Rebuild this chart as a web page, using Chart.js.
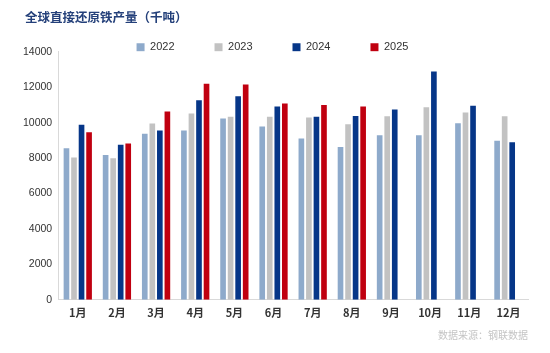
<!DOCTYPE html>
<html>
<head>
<meta charset="utf-8">
<script src="https://cdn.jsdelivr.net/npm/chart.js@4"></script>
<style>
  html, body { margin: 0; padding: 0; background: #fff; }
  #wrap { width: 550px; height: 353px; }
</style>
</head>
<body>
<div id="wrap"><canvas id="dri"></canvas></div>
<script>
const months = ['1月', '2月', '3月', '4月', '5月', '6月', '7月', '8月', '9月', '10月', '11月', '12月'];
const yearLabels = ['2022', '2023', '2024', '2025'];
const v2022 = [8560, 8170, 9370, 9560, 10230, 9780, 9110, 8620, 9290, 9290, 9970, 8980];
const v2023 = [8040, 7990, 9950, 10510, 10330, 10330, 10290, 9910, 10360, 10870, 10570, 10360];
const v2024 = [9880, 8750, 9560, 11260, 11490, 10910, 10330, 10380, 10740, 12890, 10960, 8900];
const v2025 = [9460, 8830, 10630, 12200, 12160, 11080, 11000, 10910, null, null, null, null];
const yTicks = [0, 2000, 4000, 6000, 8000, 10000, 12000, 14000];

const colors = ['#8eaacb', '#c2c2c2', '#063688', '#c00010'];

// legend sits close under the title, nearly level with the top tick;
// title is nudged a bit to the right
const boxTweak = {
    id: 'boxTweak',
    beforeInit(chart) {
        const lg = chart.legend;
        if (lg) {
            const fit = lg.fit;
            lg.fit = function () { fit.call(this); this.height -= 39; };
            const draw = lg.draw;
            lg.draw = function () { this.top -= 28; draw.call(this); this.top += 28; };
        }
        const tb = chart.titleBlock;
        if (tb) {
            const tdraw = tb.draw;
            tb.draw = function () { this.left += 8; tdraw.call(this); this.left -= 8; };
        }
    }
};

function createBarChart(canvasId) {
    const series = [v2022, v2023, v2024, v2025];
    const data = {
        labels: months,
        datasets: series.map((vals, i) => ({
            label: yearLabels[i],
            data: vals,
            backgroundColor: colors[i],
            borderWidth: 0,
            barPercentage: 0.75,
            categoryPercentage: 0.77,
        }))
    };

    const numFont = { family: "'Liberation Sans', Arial, sans-serif", size: 11 };

    const config = {
        type: 'bar',
        data: data,
        options: {
            responsive: true,
            maintainAspectRatio: false,
            animation: false,
            layout: {
                padding: { left: 17, right: 22, top: 0, bottom: 0 }
            },
            scales: {
                y: {
                    min: 0,
                    max: 14000,
                    afterBuildTicks: (axis) => { axis.ticks = yTicks.map(v => ({ value: v })); },
                    grid: { display: false, drawTicks: false, tickLength: 0 },
                    border: { display: true, color: '#d9d9d9', width: 1 },
                    ticks: {
                        color: '#333',
                        font: { family: "'Liberation Sans', Arial, sans-serif", size: 10.5 },
                        padding: 6,
                        callback: (v) => String(v)
                    }
                },
                x: {
                    grid: { display: false, drawTicks: false, tickLength: 0 },
                    border: { display: true, color: '#d9d9d9', width: 1 },
                    ticks: {
                        color: '#333',
                        font: { family: "'Noto Sans CJK SC', sans-serif", size: 11, weight: 'bold' },
                        padding: 6,
                        maxRotation: 0
                    }
                }
            },
            plugins: {
                title: {
                    display: true,
                    text: '全球直接还原铁产量（千吨）',
                    align: 'start',
                    color: '#24407a',
                    font: { family: "'Noto Sans CJK SC', sans-serif", size: 12.5, weight: 'bold' },
                    padding: { top: 9.5, bottom: 5.3 }
                },
                subtitle: {
                    display: true,
                    position: 'bottom',
                    align: 'end',
                    text: '数据来源：钢联数据',
                    color: '#c4c4c4',
                    font: { family: "'Noto Sans CJK SC', sans-serif", size: 10 },
                    padding: { top: 4, bottom: 12 }
                },
                legend: {
                    position: 'top',
                    labels: {
                        boxWidth: 8,
                        boxHeight: 8,
                        padding: 40,
                        color: '#333',
                        font: numFont
                    }
                },
                tooltip: { enabled: false }
            }
        },
        plugins: [boxTweak]
    };

    const ctx = document.getElementById(canvasId).getContext('2d');
    const chart = new Chart(ctx, config);

    window.addEventListener('resize', () => {
        chart.resize();
    });
}

createBarChart('dri');
</script>
</body>
</html>
